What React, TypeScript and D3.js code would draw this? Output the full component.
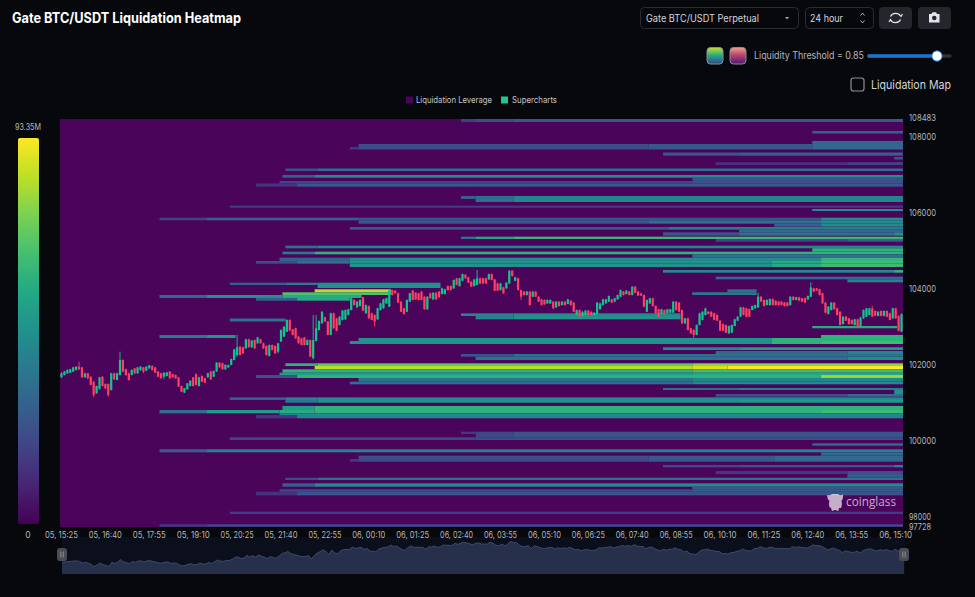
import React, { useMemo } from "react";
import * as d3 from "d3";

const WIDTH = 975;
const HEIGHT = 597;
const FONT = "Inter, Roboto, sans-serif";

const timeTicks = [
  "05, 15:25", "05, 16:40", "05, 17:55", "05, 19:10", "05, 20:25", "05, 21:40", "05, 22:55",
  "06, 00:10", "06, 01:25", "06, 02:40", "06, 03:55", "06, 05:10", "06, 06:25", "06, 07:40",
  "06, 08:55", "06, 10:10", "06, 11:25", "06, 12:40", "06, 13:55", "06, 15:10",
];
const priceTicks = [108483, 108000, 106000, 104000, 102000, 100000, 98000, 97728];
const BIN_COUNT = 288;
const MAX_LIQUIDITY = "93.35M";

// price top, price bottom, [time bin, share of max liquidity] steps, last bin
type Band = [number, number, [number, number][], number?];

const upperBands: Band[] = [
  [108483, 108369, [[137, 0.13], [142, 0.18], [155, 0.22]]],
  [108132, 108066, [[257, 0.25]]],
  [107870, 107790, [[257, 0.28]]],
  [107790, 107711, [[102, 0.18], [201, 0.22], [257, 0.28]]],
  [107711, 107645, [[99, 0.12], [102, 0.18], [201, 0.22], [257, 0.28]]],
  [107566, 107482, [[206, 0.2], [232, 0.25]]],
  [107448, 107382, [[285, 0.2]]],
  [107308, 107237, [[224, 0.1], [269, 0.16]]],
  [107145, 107079, [[77, 0.2], [88, 0.3]]],
  [106974, 106903, [[76, 0.25], [87, 0.42]]],
  [106903, 106816, [[216, 0.2]]],
  [106816, 106751, [[75, 0.15], [216, 0.2]]],
  [106751, 106666, [[67, 0.1], [81, 0.22]]],
  [106422, 106343, [[137, 0.25], [142, 0.3], [155, 0.4]]],
  [106343, 106264, [[142, 0.3], [155, 0.4]]],
  [106166, 106114, [[58, 0.13]]],
  [106079, 106026, [[257, 0.42]]],
  [105850, 105782, [[34, 0.14], [50, 0.25], [102, 0.2], [260, 0.42]]],
  [105782, 105693, [[102, 0.22], [201, 0.3], [260, 0.42]]],
  [105693, 105614, [[244, 0.25], [260, 0.42]]],
  [105606, 105535, [[99, 0.22], [208, 0.35]]],
  [105535, 105466, [[232, 0.28]]],
  [105466, 105377, [[206, 0.2], [232, 0.3], [285, 0.45]]],
  [105351, 105290, [[137, 0.32], [142, 0.55], [155, 0.63]]],
  [105290, 105219, [[224, 0.16], [269, 0.25]]],
  [105114, 105045, [[77, 0.3], [88, 0.4]]],
  [105045, 104956, [[257, 0.6]]],
  [104956, 104887, [[76, 0.35], [87, 0.6]]],
  [104887, 104798, [[216, 0.3]]],
  [104798, 104711, [[75, 0.25], [99, 0.42], [260, 0.62]]],
  [104711, 104640, [[67, 0.18], [81, 0.3], [99, 0.45], [243, 0.56], [260, 0.64]]],
  [104640, 104553, [[99, 0.45], [243, 0.56], [260, 0.64]]],
  [104474, 104403, [[206, 0.42], [285, 0.6]]],
  [104298, 104229, [[224, 0.28]]],
  [104229, 104150, [[269, 0.38]]],
];

const middleBands: Band[] = [
  [104140, 104079, [[58, 0.25], [77, 0.35], [88, 0.42]], 130],
  [104079, 104000, [[88, 0.45]], 130],
  [103966, 103887, [[87, 0.88]], 113],
  [103887, 103816, [[76, 0.68]], 113],
  [103816, 103737, [[34, 0.28], [50, 0.45], [76, 0.56]], 103],
  [103737, 103666, [[67, 0.25], [81, 0.56]], 99],
  [103966, 103887, [[228, 0.3]], 238],
  [103887, 103816, [[216, 0.35]], 238],
  [103334, 103263, [[137, 0.38], [155, 0.42]], 212],
  [103263, 103176, [[142, 0.38], [155, 0.45]], 212],
  [103197, 103119, [[58, 0.3]], 77],
  [103000, 102940, [[257, 0.56]], 286],
  [102763, 102684, [[34, 0.35], [50, 0.48]], 60],
  [102763, 102684, [[260, 0.6]]],
  [102684, 102605, [[102, 0.45], [243, 0.6]]],
  [102605, 102526, [[99, 0.45], [243, 0.6], [260, 0.64]]],
  [102440, 102368, [[206, 0.42], [232, 0.5]]],
  [102342, 102263, [[224, 0.28], [269, 0.4]]],
  [102263, 102192, [[137, 0.2], [155, 0.32]]],
  [102192, 102105, [[142, 0.32], [269, 0.42]]],
];

const lowerBands: Band[] = [
  [102018, 101947, [[77, 0.6], [88, 0.72], [216, 0.8]]],
  [101947, 101860, [[87, 0.88], [216, 0.94], [228, 1]]],
  [101860, 101771, [[76, 0.6], [216, 0.65]]],
  [101771, 101710, [[75, 0.5], [216, 0.55]]],
  [101710, 101632, [[67, 0.2], [81, 0.6], [260, 0.82]]],
  [101632, 101534, [[102, 0.32], [216, 0.4]]],
  [101534, 101466, [[99, 0.3], [216, 0.42]]],
  [101368, 101316, [[206, 0.32], [232, 0.38]]],
  [101316, 101210, [[285, 0.45]]],
  [101210, 101139, [[224, 0.2], [269, 0.3]]],
  [101123, 101052, [[58, 0.25], [77, 0.38], [88, 0.42]]],
  [101052, 100981, [[77, 0.35], [88, 0.45], [232, 0.5]]],
  [100895, 100789, [[76, 0.5], [87, 0.6]]],
  [100789, 100702, [[34, 0.3], [50, 0.5], [75, 0.56], [87, 0.6], [260, 0.64]]],
  [100702, 100658, [[75, 0.42]]],
  [100658, 100571, [[67, 0.12], [81, 0.4]]],
  [100218, 100158, [[137, 0.12], [142, 0.16], [155, 0.2]]],
  [100158, 100071, [[142, 0.16], [155, 0.2]]],
  [100071, 100000, [[58, 0.15], [142, 0.18]]],
  [99913, 99850, [[257, 0.28]]],
  [99755, 99676, [[34, 0.25], [50, 0.38]]],
  [99676, 99587, [[260, 0.28]]],
  [99587, 99500, [[102, 0.18], [201, 0.22], [244, 0.28]]],
  [99500, 99429, [[99, 0.12], [102, 0.18], [201, 0.22], [244, 0.28]]],
  [99342, 99281, [[206, 0.16], [232, 0.2], [285, 0.4]]],
  [99184, 99105, [[224, 0.12], [269, 0.18]]],
  [99105, 99007, [[269, 0.22]]],
  [99007, 98947, [[77, 0.18], [88, 0.3]]],
  [98860, 98771, [[76, 0.25], [87, 0.42]]],
  [98771, 98702, [[216, 0.22]]],
  [98702, 98639, [[75, 0.18], [216, 0.25]]],
  [98639, 98544, [[67, 0.1], [81, 0.2]]],
  [98113, 98052, [[58, 0.13]]],
  [97781, 97718, [[34, 0.12], [50, 0.18]]],
];

// open, high, low, close for each 5 minute bin
const candles: [number, number, number, number][] = [
  [101650,101780,101630,101755],[101710,101820,101700,101800],[101755,101860,101740,101840],[101770,101875,101760,101860],
  [101800,101930,101790,101910],[101840,101940,101830,101930],[101930,102060,101850,101860],[101910,101930,101640,101650],
  [101650,101770,101640,101755],[101755,101770,101600,101625],[101665,101680,101440,101450],[101535,101545,101125,101185],
  [101230,101430,101220,101420],[101340,101660,101330,101650],[101665,101680,101410,101420],[101475,101490,101350,101360],
  [101475,101490,101140,101185],[101315,101770,101305,101755],[101755,101770,101585,101595],[101580,101775,101570,101755],
  [101710,102325,101700,102105],[102105,102120,101790,101800],[101860,101880,101690,101710],[101755,101770,101560,101580],
  [101710,101860,101700,101840],[101885,101900,101740,101755],[101755,101925,101740,101910],[101840,101945,101825,101930],
  [101910,101920,101760,101800],[101825,101945,101815,101930],[101885,101975,101875,101965],[101950,101965,101830,101840],
  [101910,101925,101760,101770],[101800,101815,101655,101665],[101755,101770,101615,101625],[101665,101780,101600,101770],
  [101685,101790,101675,101780],[101800,101815,101610,101625],[101735,101745,101640,101650],[101710,101720,101610,101625],
  [101650,101660,101395,101405],[101420,101430,101260,101270],[101245,101370,101235,101360],[101335,101500,101325,101490],
  [101420,101570,101410,101560],[101650,101660,101410,101420],[101735,101750,101440,101450],[101420,101665,101410,101650],
  [101685,101700,101525,101535],[101625,101640,101500,101510],[101650,101770,101640,101755],[101800,101815,101585,101595],
  [101665,101830,101655,101815],[101800,102050,101790,102035],[102035,102050,101900,101910],[102020,102035,101850,101860],
  [101860,101990,101850,101975],[101910,101985,101900,101975],[101975,102145,101965,102130],[102105,102400,102095,102385],
  [102235,102765,102190,102440],[102455,102470,102225,102235],[102440,102455,102270,102280],[102410,102665,102400,102650],
  [102650,102665,102430,102440],[102440,102630,102430,102615],[102630,102645,102400,102410],[102545,102715,102535,102700],
  [102650,102665,102535,102545],[102545,102560,102400,102410],[102475,102490,102225,102235],[102210,102515,102200,102500],
  [102500,102515,102360,102370],[102475,102490,102270,102280],[102325,102555,102280,102545],[102590,102910,102580,102895],
  [102720,103000,102710,102980],[102850,103175,102840,103160],[103160,103175,102865,102875],[102910,102925,102755,102765],
  [102940,102955,102665,102675],[102720,102735,102535,102545],[102675,102690,102490,102500],[102700,102715,102490,102500],
  [102500,102645,102490,102630],[102630,102645,102185,102195],[102150,103290,102125,102630],[102605,103290,102595,102940],
  [102895,103145,102885,103130],[103070,103390,103060,103375],[103230,103245,103105,103115],[103115,103130,102755,102765],
  [102765,103350,102755,103335],[103335,103350,102930,102940],[103200,103215,102865,102875],[103025,103260,103015,103245],
  [103160,103420,103150,103405],[103175,103435,103165,103420],[103290,103455,103280,103440],[103420,103745,103410,103730],
  [103685,103700,103540,103550],[103490,103655,103480,103640],[103525,103700,103515,103685],[103755,103770,103395,103405],
  [103335,103565,103325,103550],[103525,103540,103190,103200],[103335,103350,103150,103160],[103290,103305,102980,103115],
  [103175,103480,103165,103465],[103420,103610,103410,103595],[103465,103715,103455,103700],[103595,103745,103585,103730],
  [103510,103980,103500,103965],[103945,103960,103805,103815],[103930,103945,103850,103860],[103860,103875,103605,103615],
  [103640,103655,103365,103375],[103465,103480,103305,103315],[103375,103700,103365,103685],[103640,103875,103630,103860],
  [103930,103945,103675,103685],[103875,103890,103690,103700],[103860,103875,103675,103685],[103905,103920,103675,103685],
  [103770,103785,103430,103440],[103440,103785,103430,103770],[103860,103875,103720,103730],[103700,103890,103690,103875],
  [103875,103890,103690,103700],[103905,103920,103745,103755],[103840,104005,103830,103990],[103840,103980,103830,103965],
  [104050,104065,103935,103945],[104050,104065,103935,103945],[103990,104225,103980,104210],[104255,104270,104070,104080],
  [104050,104270,104040,104255],[104190,104380,104180,104365],[104350,104365,104245,104255],[104280,104295,104130,104140],
  [104165,104180,104025,104035],[104050,104240,104040,104225],[104080,104475,104070,104255],[104255,104270,104110,104120],
  [104255,104270,104110,104120],[104255,104270,104110,104120],[104225,104380,104215,104365],[104365,104380,104200,104210],
  [104225,104240,103920,103930],[104120,104135,103920,103930],[103945,104135,103935,104120],[104015,104030,103850,103860],
  [103990,104155,103980,104140],[104120,104470,104110,104455],[104455,104470,104305,104315],[104190,104295,104180,104280],
  [104255,104270,103935,103945],[103945,103960,103685,103770],[103905,103920,103805,103815],[103815,103920,103805,103905],
  [103905,103920,103540,103550],[103770,103920,103760,103905],[103905,103920,103760,103770],[103770,103785,103630,103640],
  [103700,103715,103540,103550],[103685,103700,103560,103570],[103595,103700,103585,103685],[103595,103700,103585,103685],
  [103640,103655,103455,103465],[103490,103655,103480,103640],[103640,103655,103515,103525],[103550,103655,103540,103640],
  [103640,103655,103540,103550],[103580,103715,103570,103700],[103665,103680,103540,103550],[103615,103630,103365,103375],
  [103290,103435,103280,103420],[103420,103435,103235,103245],[103265,103390,103255,103375],[103290,103420,103280,103405],
  [103405,103420,103280,103290],[103375,103390,103280,103290],[103290,103365,103280,103350],[103315,103630,103305,103615],
  [103440,103610,103430,103595],[103550,103715,103540,103700],[103595,103715,103585,103700],[103640,103805,103630,103790],
  [103700,103715,103605,103615],[103640,103745,103630,103730],[103700,103830,103690,103815],[103770,103960,103760,103945],
  [103905,103920,103805,103815],[103840,103945,103830,103930],[103905,103920,103805,103815],[103815,104050,103805,104035],
  [104035,104050,103865,103875],[103905,103920,103790,103800],[103860,103875,103790,103800],[103815,103830,103500,103510],
  [103375,103700,103365,103685],[103595,103745,103585,103730],[103730,103745,103515,103525],[103525,103540,103325,103335],
  [103440,103455,103235,103245],[103315,103455,103305,103440],[103420,103435,103305,103315],[103335,103455,103325,103440],
  [103350,103455,103340,103440],[103350,103655,103340,103640],[103640,103655,103410,103420],[103615,103630,103365,103375],
  [103420,103435,103060,103070],[103070,103215,103060,103200],[103200,103215,102885,102895],[102940,102955,102795,102805],
  [102895,102910,102675,102765],[102765,103040,102755,103025],[103025,103350,103015,103335],[103160,103390,103150,103375],
  [103290,103480,103280,103465],[103375,103390,103305,103315],[103375,103390,103235,103245],[103335,103350,103150,103160],
  [103290,103305,103130,103140],[103140,103155,102865,102875],[103050,103065,102865,102875],[103025,103040,102815,102825],
  [102805,103015,102795,103000],[102825,103040,102815,103025],[103000,103190,102990,103175],[103140,103260,103130,103245],
  [103245,103505,103235,103490],[103490,103505,103280,103290],[103465,103480,103235,103245],[103440,103455,103235,103245],
  [103420,103540,103410,103525],[103465,103565,103455,103550],[103490,103875,103480,103770],[103770,103785,103630,103640],
  [103685,103700,103515,103525],[103550,103700,103540,103685],[103550,103725,103540,103710],[103710,103725,103540,103550],
  [103665,103680,103540,103550],[103640,103655,103540,103550],[103640,103655,103540,103550],[103615,103630,103515,103525],
  [103615,103630,103515,103525],[103550,103785,103540,103770],[103770,103785,103675,103685],[103685,103770,103675,103755],
  [103755,103770,103655,103665],[103730,103745,103630,103640],[103730,103745,103605,103615],[103700,103805,103690,103790],
  [103770,104150,103760,104015],[103990,104005,103895,103905],[103990,104005,103920,103930],[103965,103980,103805,103815],
  [103860,103875,103585,103595],[103615,103630,103340,103350],[103315,103525,103305,103510],[103420,103630,103410,103615],
  [103615,103630,103430,103440],[103465,103480,103280,103290],[103375,103390,103015,103025],[103050,103260,103040,103245],
  [103245,103260,103130,103140],[103200,103215,103040,103050],[103160,103175,103040,103050],[103025,103190,103015,103175],
  [103175,103190,102955,102965],[103000,103235,102990,103220],[103200,103435,103190,103420],[103245,103480,103235,103465],
  [103290,103480,103280,103465],[103465,103525,103235,103245],[103395,103410,103260,103270],[103265,103390,103255,103375],
  [103395,103410,103255,103265],[103265,103410,103255,103395],[103395,103410,103235,103245],[103335,103350,103150,103160],
  [103200,103480,103190,103465],[103465,103480,103190,103200],[103265,103280,102860,102870],[102850,103330,102840,103315],
];

// the mid range of the heatmap sits greener than a straight viridis ramp
const liquidity = d3.scaleSequentialPow(d3.interpolateViridis).exponent(0.85).domain([0, 1]);

export default function App() {
  const x = useMemo(
    () => d3.scaleBand<number>().domain(d3.range(BIN_COUNT)).range([60, 903]),
    []
  );
  const y = useMemo(() => d3.scaleLinear().domain([98000, 108000]).range([516, 136]), []);

  const bands = [...upperBands, ...middleBands, ...lowerBands];
  const binX = (i: number) => (i >= BIN_COUNT ? 903 : (x(i) as number));
  const binMid = (i: number) => binX(i) + x.bandwidth() / 2;

  // overview strip under the chart
  const overviewX = d3.scaleLinear().domain([0, BIN_COUNT - 1]).range([62, 904]);
  const overviewY = d3.scaleLinear().domain([101200, 104450]).range([566.5, 541.5]);
  const overviewArea = d3
    .area<[number, number, number, number]>()
    .x((_, i) => overviewX(i))
    .y0(574)
    .y1((d) => overviewY(d[3]));
  const overviewLine = d3
    .line<[number, number, number, number]>()
    .x((_, i) => overviewX(i))
    .y((d) => overviewY(d[3]));

  const colorStops = d3.range(0, 1.001, 0.1);

  return (
    <svg
      width={WIDTH}
      height={HEIGHT}
      style={{ position: "absolute", left: 0, top: 0, display: "block", fontFamily: FONT }}
    >
      <defs>
        <linearGradient id="colorbar" x1="0" y1="1" x2="0" y2="0">
          {colorStops.map((t) => (
            <stop key={t} offset={t} stopColor={d3.interpolateViridis(t)} />
          ))}
        </linearGradient>
        <linearGradient id="swatchA" x1="0" y1="0" x2="0" y2="1">
          <stop offset="0" stopColor="#c6e02a" />
          <stop offset="0.5" stopColor="#22a884" />
          <stop offset="1" stopColor="#3b3f8f" />
        </linearGradient>
        <linearGradient id="swatchB" x1="0" y1="0" x2="0" y2="1">
          <stop offset="0" stopColor="#f3a08a" />
          <stop offset="0.5" stopColor="#b0406f" />
          <stop offset="1" stopColor="#4a1a78" />
        </linearGradient>
        <filter id="soft" x="-2%" y="-2%" width="104%" height="104%">
          <feGaussianBlur stdDeviation="0.35" />
        </filter>
      </defs>
      <rect width={WIDTH} height={HEIGHT} fill="#07080c" />

      {/* header */}
      <text x={12} y={23} fill="#fff" fontSize={14} fontWeight={700} textLength={229} lengthAdjust="spacingAndGlyphs">
        Gate BTC/USDT Liquidation Heatmap
      </text>
      <rect x={640.5} y={7.5} width={158} height={21} rx={4} fill="none" stroke="#2a2c33" />
      <text x={646} y={22} fill="#d5d6da" fontSize={10} textLength={113} lengthAdjust="spacingAndGlyphs">
        Gate BTC/USDT Perpetual
      </text>
      <path d="M785 17 L789 17 L787 19.5 Z" fill="#aaa" />
      <rect x={805.5} y={7.5} width={68} height={21} rx={4} fill="none" stroke="#2a2c33" />
      <text x={810} y={22} fill="#d5d6da" fontSize={10} textLength={33} lengthAdjust="spacingAndGlyphs">
        24 hour
      </text>
      <path d="M860.5 15.5 L862.5 13 L864.5 15.5 M860.5 20.5 L862.5 23 L864.5 20.5" fill="none" stroke="#aaa" />
      <rect x={879} y={7} width={33} height={22} rx={4} fill="#23262d" />
      <path
        d="M890.5 16.5 A5.5 5 0 0 1 900.5 16 M900.5 19.5 A5.5 5 0 0 1 890.5 20 M899 14 L901 16.5 L902.5 14 M889 22 L890.5 19.5 L892.5 22"
        fill="none"
        stroke="#e4e5e8"
        strokeWidth={1.2}
      />
      <rect x={918} y={7} width={33} height={22} rx={4} fill="#23262d" />
      <path d="M929 14 h2.5 l1 -1.8 h3.5 l1 1.8 h2.5 v8.5 h-10.5 Z" fill="#e4e5e8" />
      <circle cx={934.3} cy={18} r={2.3} fill="#23262d" />

      {/* threshold row */}
      <rect x={707} y={47.5} width={16} height={16.5} rx={3.5} fill="url(#swatchA)" stroke="#8b8e9a" />
      <rect x={730} y={47.5} width={16} height={16.5} rx={3.5} fill="url(#swatchB)" stroke="#8b8e9a" />
      <text x={754} y={59} fill="#b4b6bc" fontSize={10} textLength={110} lengthAdjust="spacingAndGlyphs">
        Liquidity Threshold = 0.85
      </text>
      <line x1={869} x2={950} y1={56} y2={56} stroke="#2f3138" strokeWidth={3.5} strokeLinecap="round" />
      <line x1={869} x2={937} y1={56} y2={56} stroke="#1673d1" strokeWidth={3.5} strokeLinecap="round" />
      <circle cx={937} cy={56} r={5.2} fill="#fff" stroke="#1673d1" strokeWidth={1} />
      <rect x={851} y={78} width={13} height={13} rx={2.5} fill="none" stroke="#8d8f95" strokeWidth={1.2} />
      <text x={871} y={89} fill="#d5d6da" fontSize={12} textLength={80} lengthAdjust="spacingAndGlyphs">
        Liquidation Map
      </text>

      {/* legend */}
      <rect x={406} y={96.5} width={7} height={7} fill="#4a0558" />
      <text x={416} y={103} fill="#c4c5ca" fontSize={8.5} textLength={76} lengthAdjust="spacingAndGlyphs">
        Liquidation Leverage
      </text>
      <rect x={501} y={96.5} width={7} height={7} fill="#1fc78a" />
      <text x={512} y={103} fill="#c4c5ca" fontSize={8.5} textLength={45} lengthAdjust="spacingAndGlyphs">
        Supercharts
      </text>

      {/* colour scale */}
      <text x={28} y={130} fill="#b4b6bc" fontSize={8.5} textAnchor="middle" textLength={26} lengthAdjust="spacingAndGlyphs">
        {MAX_LIQUIDITY}
      </text>
      <rect x={18} y={138} width={21} height={386} rx={2} fill="url(#colorbar)" />
      <text x={28} y={538} fill="#b4b6bc" fontSize={8.5} textAnchor="middle">
        0
      </text>

      {/* heatmap */}
      <clipPath id="plot">
        <rect x={60} y={119} width={843} height={408} />
      </clipPath>
      <g clipPath="url(#plot)">
        <rect x={60} y={119} width={843} height={408} fill="#4a045a" />
        <g filter="url(#soft)">
          {bands.map(([top, bottom, steps, end], b) =>
            steps.map(([start, value], s) => {
              const next = s + 1 < steps.length ? steps[s + 1][0] : end ?? BIN_COUNT;
              return (
                <rect
                  key={`${b}-${s}`}
                  x={binX(start)}
                  y={y(top)}
                  width={binX(next) - binX(start)}
                  height={y(bottom) - y(top)}
                  fill={liquidity(value)}
                />
              );
            })
          )}
          {candles.map(([o, h, l, c], i) => {
            const color = c >= o ? "#10c88c" : "#ff3f62";
            return (
              <g key={i}>
                <line x1={binMid(i)} x2={binMid(i)} y1={y(h)} y2={y(l)} stroke={color} strokeWidth={0.9} />
                <rect
                  x={binMid(i) - 1.1}
                  y={y(Math.max(o, c))}
                  width={2.2}
                  height={Math.max(1, Math.abs(y(o) - y(c)))}
                  fill={color}
                />
              </g>
            );
          })}
        </g>
      </g>

      {/* watermark */}
      <g fill="#fff" fillOpacity={0.68}>
        <path d="M827 495 Q830 496 832 494 L838 494 Q840 496 843 494.5 Q843.5 499 841.5 501 Q842.5 505 841 508 L839 508 L838.5 511 L835 510 L832 511 L831 508 L829.5 507 Q828.5 504 829.5 501 Q827 499 827 495 Z" />
        <text x={846} y={506} fontSize={13} fontWeight={400} textLength={50} lengthAdjust="spacingAndGlyphs" fontFamily="'Open Sans', sans-serif">
          coinglass
        </text>
      </g>

      {/* overview */}
      <rect x={62} y={537} width={843} height={37} fill="#0b0f1c" />
      <path d={overviewArea(candles) ?? ""} fill="#27304a" />
      <path d={overviewLine(candles) ?? ""} fill="none" stroke="#44547c" strokeWidth={0.8} />
      {[62, 904].map((hx) => (
        <g key={hx}>
          <rect x={hx - 5} y={548} width={10} height={13} rx={3} fill="#4a4d55" />
          <path d={`M${hx - 1.2} 551.5 v6 M${hx + 1.2} 551.5 v6`} stroke="#aaa" strokeWidth={0.7} />
        </g>
      ))}

      {/* axes */}
      {priceTicks.map((p) => (
        <text
          key={p}
          x={909}
          y={y(p) + 3.5}
          fill="#b4b6bc"
          fontSize={8.5}
          textLength={p >= 100000 ? 27 : 22}
          lengthAdjust="spacingAndGlyphs"
        >
          {p}
        </text>
      ))}
      {timeTicks.map((t, i) => (
        <text
          key={t}
          x={binMid(i * 15)}
          y={538}
          fill="#b4b6bc"
          fontSize={8.5}
          textAnchor="middle"
          textLength={33}
          lengthAdjust="spacingAndGlyphs"
        >
          {t}
        </text>
      ))}
    </svg>
  );
}
